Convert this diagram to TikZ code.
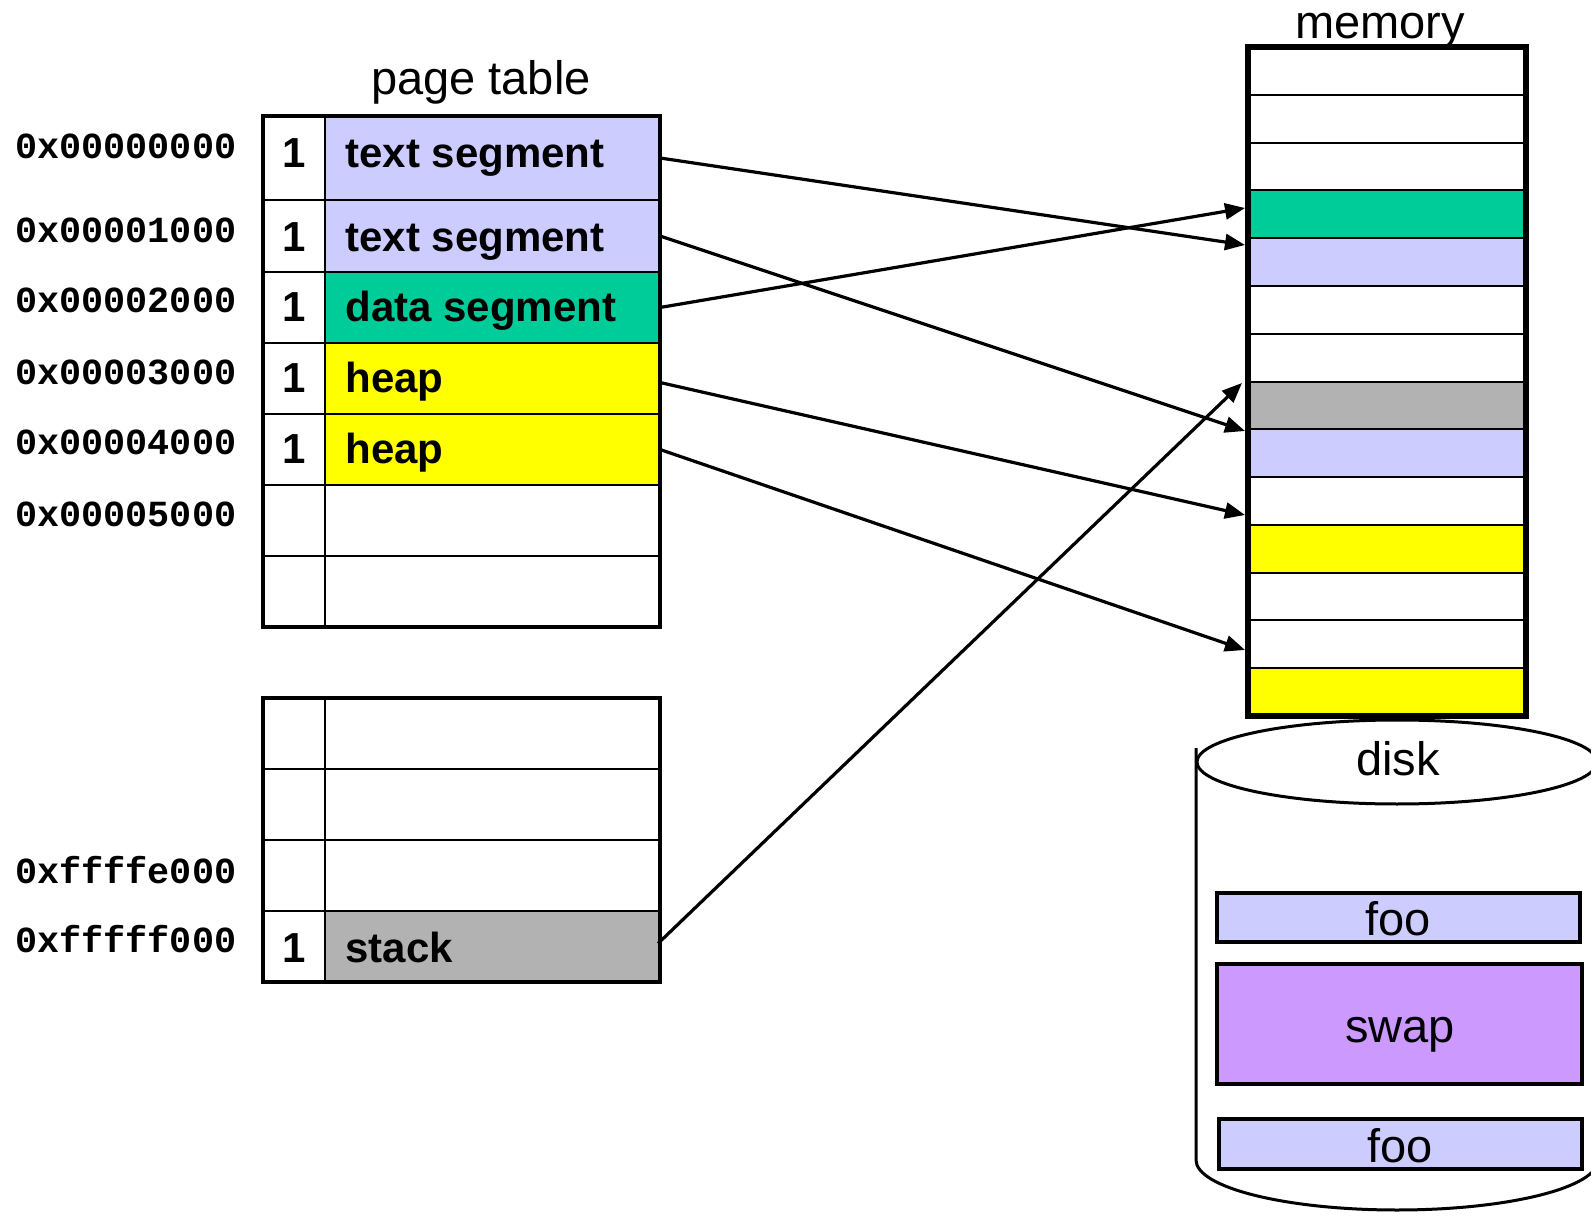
\documentclass[tikz,border=0pt]{standalone}
\usepackage{fontspec}
\setmainfont{Liberation Sans}
\setmonofont{Liberation Mono}
\usetikzlibrary{fit,arrows.meta,calc}
\definecolor{lav}{HTML}{CCCCFF}
\definecolor{grn}{HTML}{00CC99}
\definecolor{yel}{HTML}{FFFF00}
\definecolor{gry}{HTML}{B2B2B2}
\definecolor{swp}{HTML}{CC99FF}
\tikzset{
  cell/.style={draw, line width=1pt, inner sep=0pt, outer sep=0pt},
  diskbox/.style={draw, line width=1.8pt, inner sep=0pt, outer sep=0pt},
  big/.style={font={\fontsize{23.5}{28}\selectfont}, anchor=base, inner sep=0pt},
  lbl/.style={font={\fontsize{21}{25}\selectfont\bfseries}, anchor=base west, inner sep=0pt},
  bit/.style={font={\fontsize{21}{25}\selectfont\bfseries}, anchor=base, inner sep=0pt},
  addr/.style={font={\ttfamily\bfseries\fontsize{18.4}{22}\selectfont}, anchor=base west, inner sep=0pt},
  conn/.style={line width=1.6pt, -{Triangle[length=10pt,width=8pt]}}
}
\begin{document}
\begin{tikzpicture}[x=0.5pt, y=-0.5pt]
\useasboundingbox (0,0) rectangle (1591,1219);
\fill[white] (0,0) rectangle (1591,1219);

% disk (behind memory)
\draw[line width=1.5pt, fill=white] (1397,762) ellipse [x radius=100pt, y radius=21pt];
\draw[line width=1.5pt] (1196,748) -- (1196,1160)
  arc[start angle=180, end angle=360, x radius=100.5pt, y radius=25pt] -- (1597,762);
\node[big] (disklbl) at (1398,775) {disk};
\node[diskbox, fill=lav, fit={(1217,893)(1580,942)}] (foo1) {};
\node[diskbox, fill=swp, fit={(1217,964)(1582,1084)}] (swapbox) {};
\node[diskbox, fill=lav, fit={(1219,1119)(1582,1169)}] (foo2) {};
\node[big] (foo1lbl) at (1398,935) {foo};
\node[big] (swaplbl) at (1400,1042) {swap};
\node[big] (foo2lbl) at (1400,1162) {foo};

% memory
\foreach \i/\c in {0/white,1/white,2/white,3/grn,4/lav,5/white,6/white,7/gry,8/lav,9/white,10/yel,11/white,12/white,13/yel} {
  \pgfmathsetmacro\ya{47+47.79*\i}
  \pgfmathsetmacro\yb{47+47.79*(\i+1)}
  \node[cell, fill=\c, fit={(1248,\ya)(1526,\yb)}] (m\i) {};
}
\draw[line width=2.6pt] (m0.north west) rectangle (m13.south east);
\node[big] (memlbl) at (1380,39) {memory};

% page table, upper part
\foreach \n/\ya/\yb/\c in {1/116/200/lav, 2/200/272/lav, 3/272/343/grn, 4/343/414/yel, 5/414/485/yel, 6/485/556/white, 7/556/627/white} {
  \node[cell, fill=white, fit={(263,\ya)(325,\yb)}] (b\n) {};
  \node[cell, fill=\c, fit={(325,\ya)(660,\yb)}] (p\n) {};
}
\draw[line width=2.4pt] (b1.north west) rectangle (p7.south east);
\node[big] (ptlbl) at (481,95) {page table};

\node[bit] (bit1) at (294,168) {1};
\node[bit] (bit2) at (294,252) {1};
\node[bit] (bit3) at (294,322) {1};
\node[bit] (bit4) at (294,393) {1};
\node[bit] (bit5) at (294,464) {1};
\node[lbl] (l1) at (345,168) {text segment};
\node[lbl] (l2) at (345,252) {text segment};
\node[lbl] (l3) at (345,322) {data segment};
\node[lbl] (l4) at (345,393) {heap};
\node[lbl] (l5) at (345,464) {heap};

% page table, lower part
\foreach \n/\ya/\yb/\c in {1/698/769/white, 2/769/840/white, 3/840/911/white, 4/911/982/gry} {
  \node[cell, fill=white, fit={(263,\ya)(325,\yb)}] (c\n) {};
  \node[cell, fill=\c, fit={(325,\ya)(660,\yb)}] (s\n) {};
}
\draw[line width=2.4pt] (c1.north west) rectangle (s4.south east);
\node[bit] (bit6) at (294,962) {1};
\node[lbl] (l6) at (345,962) {stack};

% addresses
\node[addr] (a0) at (15,159) {0x00000000};
\node[addr] (a1) at (15,243) {0x00001000};
\node[addr] (a2) at (15,313) {0x00002000};
\node[addr] (a3) at (15,385) {0x00003000};
\node[addr] (a4) at (15,455) {0x00004000};
\node[addr] (a5) at (15,527) {0x00005000};
\node[addr] (a6) at (15,883) {0xffffe000};
\node[addr] (a7) at (15,952) {0xfffff000};

% arrow targets
\coordinate (e1) at (1245,245);
\coordinate (e2) at (1245,431);
\coordinate (e3) at (1245,208);
\coordinate (e4) at (1245,515);
\coordinate (e5) at (1245,650);
\coordinate (e6) at (1242,383);

\draw[conn] (p1.east) -- (e1);
\draw[conn] (p2.east) -- (e2);
\draw[conn] (p3.east) -- (e3);
\draw[conn] ($(p4.east)+(0,4)$) -- (e4);
\draw[conn] (p5.east) -- (e5);
\draw[conn] ($(s4.east)+(-2,-3)$) -- (e6);
\end{tikzpicture}
\end{document}
